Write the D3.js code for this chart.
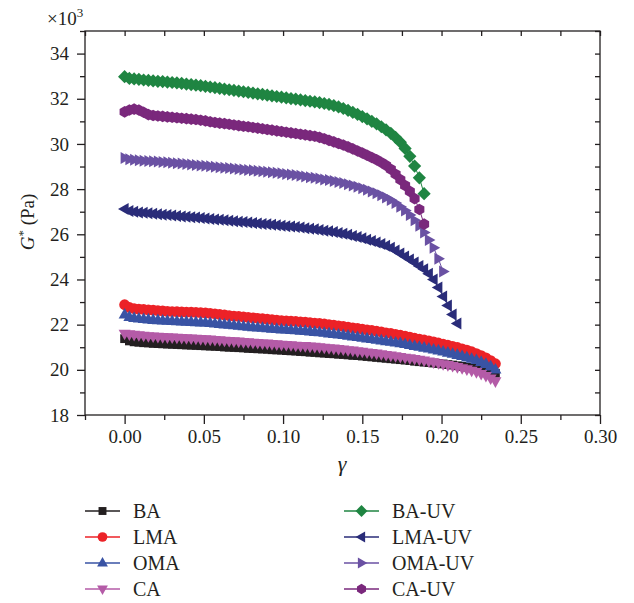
<!DOCTYPE html>
<meta charset="utf-8">
<script src="https://d3js.org/d3.v7.min.js"></script>
<style>
  body { margin: 0; background: #fff; }
  text { font-family: "Liberation Serif", "DejaVu Serif", serif; fill: #231f20; }
  .axis path, .axis line { stroke: #231f20; stroke-width: 1.3; }
</style>
<body>
<script>
// strain values (shared by all series)
var gamma = [0, 0.003, 0.006, 0.009, 0.012, 0.015, 0.018, 0.021, 0.024, 0.027,
  0.030, 0.033, 0.036, 0.039, 0.042, 0.045, 0.048, 0.051, 0.054, 0.057,
  0.060, 0.063, 0.066, 0.069, 0.072, 0.075, 0.078, 0.081, 0.084, 0.087,
  0.090, 0.093, 0.096, 0.099, 0.102, 0.105, 0.108, 0.111, 0.114, 0.117,
  0.120, 0.123, 0.126, 0.129, 0.132, 0.135, 0.138, 0.141, 0.144, 0.147,
  0.150, 0.153, 0.156, 0.159, 0.162, 0.165, 0.168, 0.171, 0.174, 0.177,
  0.180, 0.183, 0.186, 0.189, 0.192, 0.195, 0.198, 0.201, 0.204, 0.207,
  0.210, 0.213, 0.216, 0.219, 0.222, 0.225, 0.228, 0.231, 0.234];

// G* (x10^3 Pa)
var ba = [21.38, 21.28, 21.24, 21.22, 21.20, 21.19, 21.17, 21.16, 21.15, 21.14,
  21.13, 21.12, 21.11, 21.10, 21.09, 21.08, 21.07, 21.06, 21.05, 21.04,
  21.03, 21.01, 21.00, 20.99, 20.98, 20.97, 20.95, 20.94, 20.93, 20.92,
  20.91, 20.89, 20.88, 20.87, 20.85, 20.84, 20.83, 20.81, 20.80, 20.78,
  20.77, 20.75, 20.74, 20.72, 20.71, 20.69, 20.68, 20.66, 20.64, 20.63,
  20.61, 20.59, 20.57, 20.55, 20.53, 20.51, 20.49, 20.47, 20.45, 20.43,
  20.41, 20.38, 20.36, 20.34, 20.32, 20.30, 20.28, 20.26, 20.23, 20.21,
  20.18, 20.15, 20.12, 20.09, 20.05, 20.01, 19.96, 19.91, 19.85];

var lma = [22.88, 22.76, 22.71, 22.69, 22.67, 22.65, 22.64, 22.62, 22.61, 22.59,
  22.58, 22.57, 22.56, 22.55, 22.55, 22.54, 22.53, 22.52, 22.50, 22.48,
  22.45, 22.43, 22.40, 22.38, 22.36, 22.34, 22.32, 22.30, 22.28, 22.26,
  22.24, 22.22, 22.20, 22.18, 22.17, 22.15, 22.14, 22.12, 22.11, 22.09,
  22.07, 22.05, 22.03, 22.00, 21.98, 21.95, 21.92, 21.89, 21.86, 21.83,
  21.80, 21.77, 21.74, 21.71, 21.68, 21.64, 21.61, 21.57, 21.53, 21.49,
  21.45, 21.40, 21.36, 21.32, 21.28, 21.24, 21.19, 21.14, 21.09, 21.04,
  20.99, 20.93, 20.87, 20.80, 20.72, 20.63, 20.53, 20.41, 20.27];

var oma = [22.45, 22.34, 22.29, 22.27, 22.25, 22.23, 22.21, 22.20, 22.18, 22.17,
  22.16, 22.15, 22.14, 22.13, 22.12, 22.11, 22.10, 22.09, 22.07, 22.05,
  22.03, 22.01, 21.99, 21.97, 21.95, 21.93, 21.91, 21.89, 21.87, 21.86,
  21.84, 21.82, 21.81, 21.79, 21.78, 21.76, 21.75, 21.73, 21.72, 21.70,
  21.68, 21.66, 21.64, 21.61, 21.59, 21.56, 21.54, 21.51, 21.48, 21.45,
  21.42, 21.39, 21.36, 21.33, 21.30, 21.27, 21.24, 21.21, 21.18, 21.14,
  21.10, 21.06, 21.02, 20.98, 20.94, 20.90, 20.86, 20.81, 20.76, 20.71,
  20.66, 20.61, 20.55, 20.49, 20.43, 20.35, 20.26, 20.15, 20.01];

var ca = [21.60, 21.57, 21.55, 21.53, 21.51, 21.49, 21.48, 21.46, 21.45, 21.44,
  21.43, 21.42, 21.41, 21.40, 21.39, 21.38, 21.36, 21.35, 21.34, 21.32,
  21.31, 21.29, 21.28, 21.26, 21.25, 21.23, 21.22, 21.20, 21.19, 21.17,
  21.16, 21.14, 21.13, 21.11, 21.10, 21.09, 21.07, 21.06, 21.05, 21.03,
  21.02, 21.00, 20.98, 20.96, 20.94, 20.92, 20.90, 20.87, 20.85, 20.82,
  20.80, 20.77, 20.75, 20.72, 20.69, 20.66, 20.63, 20.60, 20.57, 20.54,
  20.51, 20.48, 20.45, 20.41, 20.37, 20.33, 20.29, 20.25, 20.21, 20.17,
  20.12, 20.07, 20.02, 19.96, 19.90, 19.82, 19.73, 19.62, 19.49];

var baUv = [32.98, 32.90, 32.88, 32.86, 32.83, 32.81, 32.79, 32.77, 32.76, 32.74,
  32.72, 32.70, 32.68, 32.65, 32.63, 32.60, 32.58, 32.55, 32.52, 32.49,
  32.46, 32.43, 32.40, 32.37, 32.34, 32.31, 32.28, 32.25, 32.22, 32.19,
  32.16, 32.13, 32.10, 32.07, 32.04, 32.01, 31.98, 31.95, 31.92, 31.89,
  31.86, 31.83, 31.79, 31.75, 31.70, 31.64, 31.57, 31.49, 31.40, 31.31,
  31.21, 31.11, 31.00, 30.89, 30.76, 30.62, 30.47, 30.29, 30.08, 29.80,
  29.45, 29.02, 28.50, 27.80];

var lmaUv = [27.12, 27.03, 27.00, 26.97, 26.95, 26.93, 26.91, 26.89, 26.87, 26.85,
  26.83, 26.81, 26.79, 26.78, 26.76, 26.74, 26.72, 26.70, 26.68, 26.66,
  26.64, 26.62, 26.60, 26.58, 26.56, 26.54, 26.52, 26.50, 26.48, 26.46,
  26.44, 26.42, 26.40, 26.38, 26.36, 26.34, 26.32, 26.30, 26.27, 26.25,
  26.22, 26.19, 26.16, 26.13, 26.10, 26.06, 26.02, 25.98, 25.93, 25.88,
  25.82, 25.76, 25.70, 25.64, 25.57, 25.49, 25.40, 25.28, 25.15, 25.02,
  24.88, 24.75, 24.60, 24.45, 24.25, 24.00, 23.65, 23.25, 22.85, 22.45,
  22.05];

var omaUv = [29.38, 29.32, 29.30, 29.28, 29.26, 29.25, 29.23, 29.22, 29.20, 29.19,
  29.17, 29.15, 29.13, 29.11, 29.09, 29.07, 29.05, 29.03, 29.01, 28.99,
  28.97, 28.95, 28.93, 28.91, 28.89, 28.87, 28.85, 28.83, 28.81, 28.79,
  28.77, 28.75, 28.72, 28.70, 28.67, 28.65, 28.62, 28.59, 28.56, 28.53,
  28.50, 28.47, 28.43, 28.40, 28.36, 28.32, 28.27, 28.22, 28.16, 28.10,
  28.04, 27.97, 27.90, 27.82, 27.73, 27.63, 27.52, 27.39, 27.22, 27.05,
  26.85, 26.62, 26.38, 26.08, 25.75, 25.40, 24.92, 24.35];

var caUv = [31.42, 31.50, 31.54, 31.50, 31.40, 31.30, 31.26, 31.24, 31.22, 31.20,
  31.18, 31.16, 31.14, 31.12, 31.10, 31.08, 31.05, 31.02, 30.98, 30.95,
  30.92, 30.90, 30.87, 30.84, 30.81, 30.78, 30.76, 30.73, 30.70, 30.67,
  30.64, 30.61, 30.58, 30.55, 30.52, 30.49, 30.46, 30.43, 30.40, 30.37,
  30.34, 30.29, 30.23, 30.16, 30.09, 30.02, 29.95, 29.87, 29.78, 29.69,
  29.60, 29.50, 29.40, 29.30, 29.18, 29.05, 28.88, 28.66, 28.42, 28.16,
  27.90, 27.58, 27.10, 26.45];

var seriesNames = ["BA", "LMA", "OMA", "CA", "BA-UV", "LMA-UV", "OMA-UV", "CA-UV"];
var xTicks = [0, 0.05, 0.10, 0.15, 0.20, 0.25, 0.30];
var xMinor = [-0.025, 0.025, 0.075, 0.125, 0.175, 0.225, 0.275];
var yTicks = [18, 20, 22, 24, 26, 28, 30, 32, 34];
var yMinor = [19, 21, 23, 25, 27, 29, 31, 33, 35];

var values = [ba, lma, oma, ca, baUv, lmaUv, omaUv, caUv];
var colors = ["#231f20", "#ec2227", "#3953a4", "#b45ba7", "#1f8542", "#2a2c79", "#6a51a3", "#7a287c"];
var shapes = ["square", "circle", "up", "down", "diamond", "left", "right", "hexagon"];

var width = 634, height = 603;
var svg = d3.select("body").append("svg")
  .attr("width", width)
  .attr("height", height);

var x = d3.scaleLinear().domain([-0.025, 0.30]).range([85, 600]);
var y = d3.scaleLinear().domain([18, 35]).range([415, 31]);

// marker shapes
function marker(shape, k) {
  k = k || 1;
  var p = d3.path();
  if (shape == "square") { p.rect(-4.4 * k, -4.4 * k, 8.8 * k, 8.8 * k); }
  else if (shape == "circle") { p.arc(0, 0, 5.4 * k, 0, 2 * Math.PI); }
  else if (shape == "diamond") { var r = 6.6 * k; p.moveTo(0, -r); p.lineTo(r, 0); p.lineTo(0, r); p.lineTo(-r, 0); p.closePath(); }
  else if (shape == "hexagon") {
    for (var j = 0; j < 6; j++) {
      var a = Math.PI / 6 + j * Math.PI / 3;
      if (j == 0) p.moveTo(5.8 * k * Math.cos(a), 5.8 * k * Math.sin(a));
      else p.lineTo(5.8 * k * Math.cos(a), 5.8 * k * Math.sin(a));
    }
    p.closePath();
  } else {
    var pts = [[0, -6.6 * k], [6.0 * k, 4.0 * k], [-6.0 * k, 4.0 * k]];
    var rot = {up: 0, right: 90, down: 180, left: 270}[shape] * Math.PI / 180;
    pts.forEach(function(q, j) {
      var px = q[0] * Math.cos(rot) - q[1] * Math.sin(rot);
      var py = q[0] * Math.sin(rot) + q[1] * Math.cos(rot);
      if (j == 0) p.moveTo(px, py); else p.lineTo(px, py);
    });
    p.closePath();
  }
  return p.toString();
}

// axes
svg.append("g").attr("class", "axis")
  .attr("transform", "translate(0,415)")
  .call(d3.axisBottom(x).tickValues(xTicks).tickFormat(d3.format(".2f")).tickSize(9).tickSizeOuter(0).tickPadding(6))
  .call(g => g.selectAll("text").style("font-size", "19px"));
svg.append("g").attr("class", "axis")
  .attr("transform", "translate(0,415)")
  .call(d3.axisBottom(x).tickValues(xMinor).tickFormat("").tickSize(5).tickSizeOuter(0));
svg.append("g").attr("class", "axis")
  .attr("transform", "translate(85,0)")
  .call(d3.axisLeft(y).tickValues(yTicks).tickSize(8).tickSizeOuter(0).tickPadding(8))
  .call(g => g.selectAll("text").style("font-size", "19px"));
svg.append("g").attr("class", "axis")
  .attr("transform", "translate(85,0)")
  .call(d3.axisLeft(y).tickValues(yMinor).tickFormat("").tickSize(5).tickSizeOuter(0));
svg.append("g").attr("class", "axis")
  .attr("transform", "translate(0,31)")
  .call(d3.axisTop(x).tickValues(xTicks.concat(xMinor)).tickFormat("").tickSize(-5).tickSizeOuter(0));
svg.append("g").attr("class", "axis")
  .attr("transform", "translate(600,0)")
  .call(d3.axisRight(y).tickValues(yTicks.concat(yMinor)).tickFormat("").tickSize(-5).tickSizeOuter(0));
svg.selectAll(".axis .domain").remove();

svg.append("rect")
  .attr("x", 85).attr("y", 31).attr("width", 515).attr("height", 384)
  .attr("fill", "none").attr("stroke", "#231f20").attr("stroke-width", 1.3);

// axis titles
svg.append("text").attr("x", 47).attr("y", 25).style("font-size", "19px")
  .html('×10<tspan dy="-8" style="font-size:13px">3</tspan>');

svg.append("text")
  .attr("transform", "translate(34,222) rotate(-90)")
  .attr("text-anchor", "middle")
  .style("font-size", "19px")
  .html('<tspan font-style="italic">G</tspan><tspan dy="-7" style="font-size:13px">*</tspan><tspan dy="7"> (Pa)</tspan>');

svg.append("text")
  .attr("x", 342).attr("y", 471)
  .attr("text-anchor", "middle")
  .style("font-size", "22px").style("font-style", "italic")
  .text("γ");

// series
var line = d3.line().x(d => x(d[0])).y(d => y(d[1]));
var plot = svg.append("g");
seriesNames.forEach(function(name, s) {
  var pts = values[s].map((v, i) => [gamma[i], v]);
  var g = plot.append("g");
  g.append("path")
    .attr("d", line(pts))
    .attr("fill", "none")
    .attr("stroke", colors[s])
    .attr("stroke-width", 1);
  g.selectAll("path.pt")
    .data(pts)
    .enter()
    .append("path")
    .attr("class", "pt")
    .attr("transform", d => "translate(" + x(d[0]) + "," + y(d[1]) + ")")
    .attr("d", marker(shapes[s]))
    .attr("fill", colors[s]);
});

// legend
var legend = svg.append("g");
seriesNames.forEach(function(name, s) {
  var col = Math.floor(s / 4), row = s % 4;
  var lx = col == 0 ? 85 : 344;
  var ly = 511 + row * 26;
  legend.append("line")
    .attr("x1", lx).attr("x2", lx + 35)
    .attr("y1", ly).attr("y2", ly)
    .attr("stroke", colors[s]).attr("stroke-width", 1.5);
  legend.append("path")
    .attr("transform", "translate(" + (lx + 17.5) + "," + ly + ")")
    .attr("d", marker(shapes[s], 0.9))
    .attr("fill", colors[s]);
  legend.append("text")
    .attr("x", lx + 48).attr("y", ly + 7)
    .style("font-size", "20px")
    .text(name);
});
</script>
</body>
